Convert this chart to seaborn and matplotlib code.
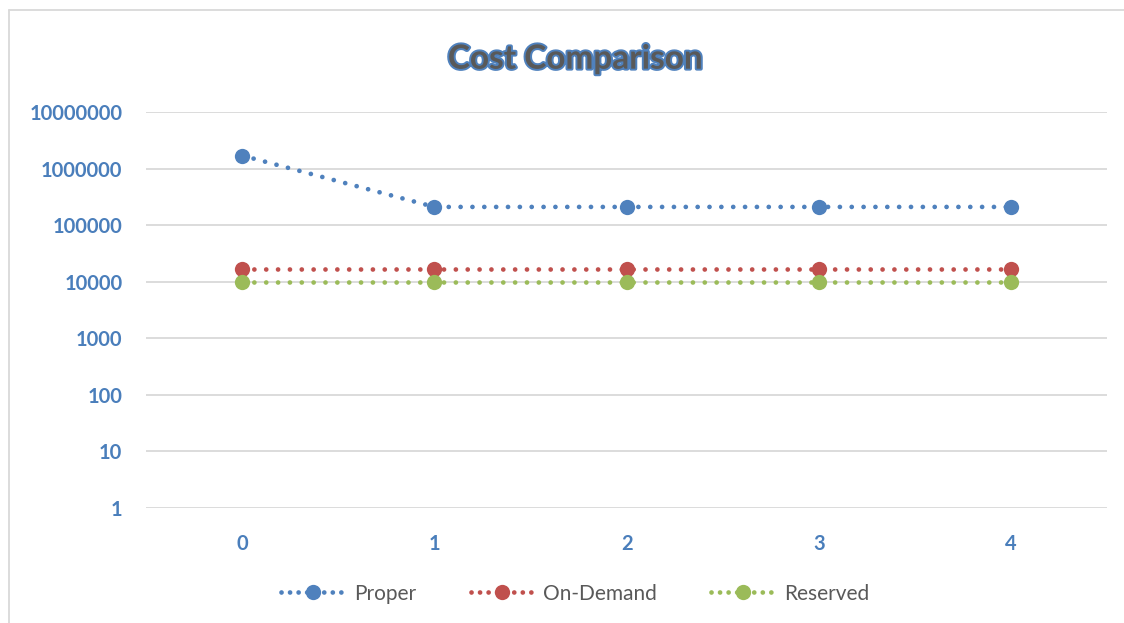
import pandas as pd
import seaborn as sns
import matplotlib.pyplot as plt
import matplotlib.patheffects as pe
from matplotlib.lines import Line2D

# values (log scale)
periods = [0, 1, 2, 3, 4]
proper = [1700000, 210000, 210000, 210000, 210000]
on_demand = [16500, 16500, 16500, 16500, 16500]
reserved = [10000, 10000, 10000, 10000, 10000]
series_names = ["Proper", "On-Demand", "Reserved"]
colors = ["#4F81BD", "#C0504D", "#9BBB59"]
y_ticks = [1, 10, 100, 1000, 10000, 100000, 1000000, 10000000]
y_labels = [str(v) for v in y_ticks]

df = pd.DataFrame({
    "Period": periods * 3,
    "Cost": proper + on_demand + reserved,
    "Series": [s for s in series_names for _ in periods],
})

sns.set_style("white")
plt.rcParams["font.family"] = ["Lato", "DejaVu Sans"]

fig = plt.figure(figsize=(11.24, 6.23), dpi=100)
ax = fig.add_axes([0.1299, 0.1846, 0.8551, 0.6356])

sns.lineplot(data=df, x="Period", y="Cost", hue="Series", palette=colors,
             marker="o", markersize=11, markeredgewidth=0, linewidth=3.4,
             ax=ax, legend=False)
for line in ax.get_lines():
    line.set_linestyle((0, (0.01, 2.5)))
    line.set_dash_capstyle("round")

ax.set_yscale("log")
ax.set_ylim(1, 10000000)
ax.set_xlim(-0.5, 4.5)
ax.set_yticks(y_ticks)
ax.set_yticklabels(y_labels)
ax.minorticks_off()
ax.set_xticks(periods)
ax.set_xticklabels([str(p) for p in periods])
ax.tick_params(length=0, labelsize=14.5, labelcolor="#4A7EBB", pad=19)
ax.tick_params(axis="y", pad=17)
for lab in ax.get_xticklabels() + ax.get_yticklabels():
    lab.set_fontweight("bold")
ax.yaxis.grid(True, color="#D9D9D9", linewidth=1.3)
ax.set_axisbelow(True)
for s in ax.spines.values():
    s.set_visible(False)
ax.set_xlabel("")
ax.set_ylabel("")

fig.text(0.512, 0.905, "Cost Comparison", ha="center", va="center", fontsize=24,
         fontweight="bold", color="#595959",
         path_effects=[pe.withStroke(linewidth=2.8, foreground="#4F81BD")])

handles = [Line2D([], [], color=c, marker="o", markersize=11, markeredgewidth=0,
                  linewidth=3.4, linestyle=(0, (0.01, 1.8)), dash_capstyle="round")
           for c in colors]
fig.legend(handles, series_names, loc="center", bbox_to_anchor=(0.512, 0.047),
           ncol=3, frameon=False, fontsize=15, labelcolor="#595959",
           handlelength=3.0, columnspacing=2.6, handletextpad=0.5)

# outer chart border (left and top)
fig.add_artist(Line2D([0.008, 0.008], [0.0, 0.984], color="#D9D9D9", linewidth=1.3))
fig.add_artist(Line2D([0.008, 1.0], [0.984, 0.984], color="#D9D9D9", linewidth=1.3))

plt.savefig("out.png", dpi=100)
